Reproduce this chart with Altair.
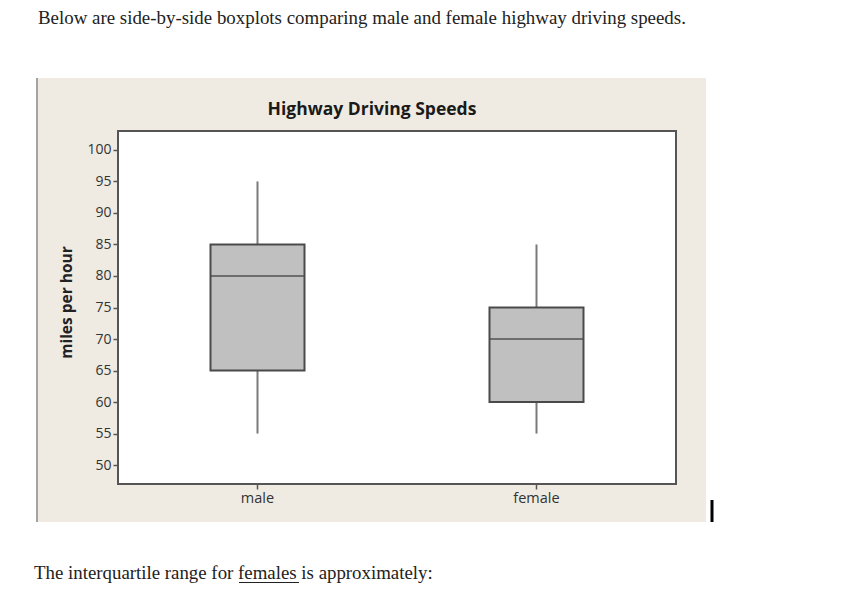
import altair as alt
import pandas as pd

# ---- data ----
groups = ["male", "female"]
whisker_low = [55, 55]
q1 = [65, 60]
median = [80, 70]
q3 = [85, 75]
whisker_high = [95, 85]
y_ticks = [50, 55, 60, 65, 70, 75, 80, 85, 90, 95, 100]

intro_text = "Below are side-by-side boxplots comparing male and female highway driving speeds."
question_before = "The interquartile range for "
question_word = "females"
question_after = " is approximately:"
chart_title = "Highway Driving Speeds"
y_title = "miles per hour"

df = pd.DataFrame({
    "group": groups,
    "low": whisker_low,
    "q1": q1,
    "median": median,
    "q3": q3,
    "high": whisker_high,
})
one = pd.DataFrame({"intro": [intro_text],
                    "question": [question_before + question_word + question_after],
                    "title": [chart_title]})

BEIGE = "#EFEBE2"
EDGE = "#555555"
BOX_FILL = "#C0C0C0"
WHISK = "#7A7A7A"

xscale = alt.Scale(domain=groups, range=[80, 638], paddingInner=0, paddingOuter=0)
yscale = alt.Scale(domain=[47, 103], range=[406, 53], nice=False, zero=False)

x_axis = alt.Axis(title=None, offset=-38, labelAngle=0, domain=False, ticks=True,
                  tickSize=5, tickColor=EDGE, tickWidth=1.5, labelColor="#333333",
                  labelFont="Open Sans", labelFontSize=14.5, labelPadding=2)
y_axis = alt.Axis(values=y_ticks, offset=-80, domain=False, grid=False, ticks=True,
                  tickSize=5, tickColor=EDGE, tickWidth=1.5, labelColor="#333333",
                  labelFont="Open Sans", labelFontSize=14, labelPadding=2,
                  title=y_title, titleFont="Open Sans", titleFontSize=15.5,
                  titleFontWeight="bold", titleColor="#222222",
                  titleX=-52, titleY=224, titleAngle=270, titleBaseline="middle",
                  titleAlign="center")


def X():
    return alt.X("group:N", sort=groups, scale=xscale, axis=x_axis)


def Y(field):
    return alt.Y(field, type="quantitative", scale=yscale, axis=y_axis)


base = alt.Chart(df)

# white plot frame
frame = alt.Chart(one).mark_rect(fill="white", stroke=EDGE, strokeWidth=2).encode(
    x=alt.value(80), x2=alt.value(638), y=alt.value(53), y2=alt.value(406)
)

left_edge = alt.Chart(one).mark_rule(color="#A3A3A3", strokeWidth=2).encode(
    x=alt.value(-1), y=alt.value(0), y2=alt.value(444)
)

whisk_hi = base.mark_rule(color=WHISK, strokeWidth=2).encode(
    x=X(), y=Y("q3"), y2="high:Q",
)
whisk_lo = base.mark_rule(color=WHISK, strokeWidth=2).encode(
    x=X(), y=Y("low"), y2="q1:Q",
)
boxes = base.mark_bar(size=94, fill=BOX_FILL, stroke="#4A4A4A", strokeWidth=2).encode(
    x=X(), y=Y("q1"), y2="q3:Q",
)
med = base.mark_tick(size=94, thickness=2, color="#4A4A4A").encode(
    x=X(), y=Y("median"),
)

title_txt = alt.Chart(one).mark_text(font="Open Sans", fontSize=17.5, fontWeight="bold",
                                     color="#1A1A1A", align="center",
                                     baseline="alphabetic").encode(
    x=alt.value(334), y=alt.value(37), text="title:N"
)
intro_txt = alt.Chart(one).mark_text(font="Liberation Serif", fontSize=18.9, color="#222222",
                                     align="left", baseline="alphabetic").encode(
    x=alt.value(0), y=alt.value(-54.5), text="intro:N"
)
question_txt = alt.Chart(one).mark_text(font="Liberation Serif", fontSize=18.85, color="#222222",
                                        align="left", baseline="alphabetic").encode(
    x=alt.value(-4), y=alt.value(501), text="question:N"
)
underline = alt.Chart(one).mark_rule(color="#222222", strokeWidth=1.2).encode(
    x=alt.value(201), x2=alt.value(261), y=alt.value(504.5)
)
cursor = alt.Chart(one).mark_rule(color="black", strokeWidth=3).encode(
    x=alt.value(674), y=alt.value(422), y2=alt.value(444)
)

chart = alt.layer(
    frame, whisk_hi, whisk_lo, boxes, med, left_edge, title_txt, intro_txt,
    question_txt, underline, cursor
).properties(
    width=668, height=444,
    padding={"left": 30, "top": 70, "right": 128, "bottom": 61},
    autosize=alt.AutoSizeParams(type="none"),
    background="white",
).configure_view(fill=BEIGE, strokeWidth=0)

chart.save("out.html", embed_options={"renderer": "svg", "actions": False})
